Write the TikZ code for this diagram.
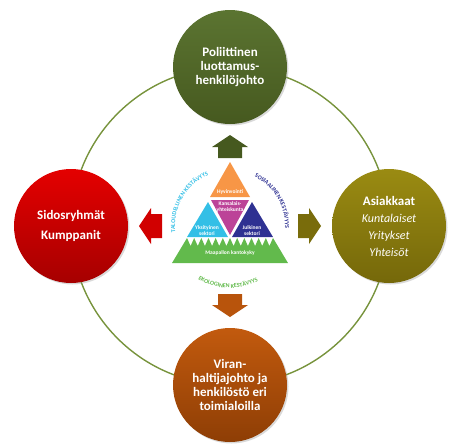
\documentclass[tikz,border=0pt]{standalone}
\usepackage{fontspec}
\setmainfont{Carlito}
\usetikzlibrary{positioning,shadows,decorations.text}
\definecolor{ringgreen}{HTML}{77933C}
\definecolor{poltop}{HTML}{5B7431}
\definecolor{polbot}{HTML}{46591F}
\definecolor{asitop}{HTML}{9A8B12}
\definecolor{asibot}{HTML}{75680A}
\definecolor{sidtop}{HTML}{E40000}
\definecolor{sidbot}{HTML}{A60000}
\definecolor{virtop}{HTML}{C25A0E}
\definecolor{virbot}{HTML}{8E3E05}
\definecolor{triorange}{HTML}{F79646}
\definecolor{trimagenta}{HTML}{BC4398}
\definecolor{trisky}{HTML}{33BFE6}
\definecolor{trinavy}{HTML}{2E3192}
\definecolor{triearth}{HTML}{62BA4C}
\tikzset{pics/bigarrow/.style={code={
  \fill[#1] (-12,68) -- (12,68) -- (12,79) -- (18,79) -- (0,91) -- (-18,79) -- (-12,79) -- cycle;}}}

\begin{document}
\begin{tikzpicture}[x=1pt,y=1pt,node distance=159pt,
    ball/.style={circle, minimum size=114pt, inner sep=0pt, text=white, align=center,
      font=\fontsize{13}{14}\selectfont\bfseries,
      drop shadow={opacity=0.3, shadow xshift=1.5pt, shadow yshift=-1.5pt}},
    ring/.style={draw=ringgreen, line width=1.4pt},
    tiny/.style={text=white, align=center, inner sep=0pt, font=\fontsize{5.5}{6}\selectfont\bfseries}]
  \useasboundingbox (-230,-219) rectangle (224,226);
  \coordinate (c) at (0,0);
  \draw[ring] (c) circle[radius=159];
  \node[ball, top color=poltop, bottom color=polbot] (pol) [above=of c, anchor=center] {Poliittinen\\luottamus-\\henkilöjohto};
  \node[ball, top color=asitop, bottom color=asibot, font=\fontsize{12}{17}\selectfont] (asi) [right=of c, anchor=center]
    {{\bfseries\fontsize{13}{17}\selectfont Asiakkaat}\\\itshape Kuntalaiset\\\itshape Yritykset\\\itshape Yhteisöt};
  \node[ball, top color=sidtop, bottom color=sidbot, font=\fontsize{13}{20}\selectfont\bfseries] (sid) [left=of c, anchor=center] {Sidosryhmät\\Kumppanit};
  \node[ball, top color=virtop, bottom color=virbot] (vir) [below=of c, anchor=center] {Viran-\\haltijajohto ja\\henkilöstö eri\\toimialoilla};
  \pic at (c) {bigarrow=polbot};
  \pic[rotate=-90] at (c) {bigarrow=asibot!90!asitop};
  \pic[rotate=90] at (c) {bigarrow=sidtop!70!sidbot};
  \pic[rotate=180] at (c) {bigarrow=virtop!80!virbot};
  \fill[triorange] (0,64) -- (-20,29) -- (20,29) -- cycle;
  \fill[trimagenta] (-19,26) -- (19,26) -- (0,-9) -- cycle;
  \fill[trisky] (-22,24) -- (-43,-11) -- (-2,-11) -- cycle;
  \fill[trinavy] (22,24) -- (2,-11) -- (43,-11) -- cycle;
  \fill[triearth] (-58,-37) -- (-43,-12) \foreach \i in {1,...,12} {-- ({-43+(\i-0.5)*7.1667},-20) -- ({-43+\i*7.1667},-12)} -- (58,-37) -- cycle;
  \node[tiny] (hyv) at (0,34) {Hyvinvointi};
  \node[tiny] (kan) at (0,19) {Kansalais-\\yhteiskunta};
  \node[tiny] (yks) at (-23,-5) {Yksityinen\\sektori};
  \node[tiny] (jul) at (22,-5) {Julkinen\\sektori};
  \node[tiny] (maa) at (0,-27) {Maapallon kantokyky};
  \path[decorate, decoration={text along path, text align=center, text color=trisky,
      text={|\fontsize{6}{6}\selectfont\bfseries|TALOUDELLINEN KESTÄVYYS}}]
    (215:55) arc[start angle=215, end angle=85, radius=55];
  \path[decorate, decoration={text along path, text align=center, text color=trinavy,
      text={|\fontsize{6}{6}\selectfont\bfseries|SOSIAALINEN KESTÄVYYS}}]
    (95:55) arc[start angle=95, end angle=-34, radius=55];
  \path[decorate, decoration={text along path, text align=center, text color=triearth,
      text={|\fontsize{6}{6}\selectfont\bfseries|EKOLOGINEN KESTÄVYYS}}]
    (208:62) arc[start angle=208, end angle=328, radius=62];
\end{tikzpicture}
\end{document}
